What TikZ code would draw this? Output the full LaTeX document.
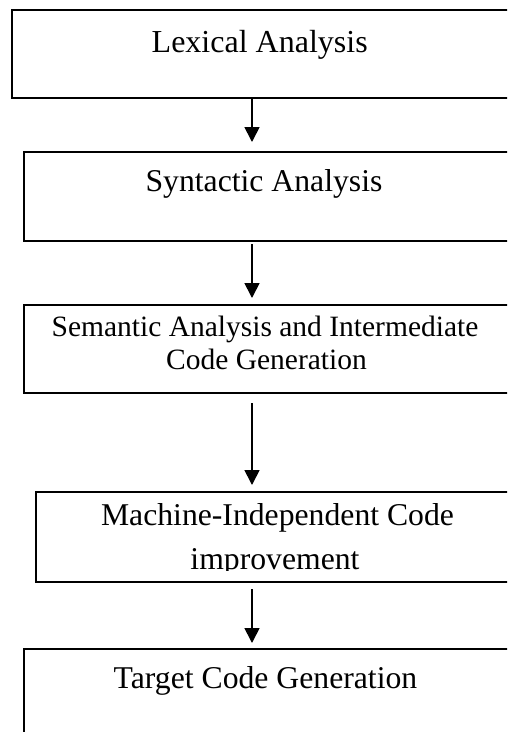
\documentclass[tikz,border=0pt]{standalone}
\usepackage{fontspec}
\setmainfont{Liberation Serif}
\usetikzlibrary{arrows.meta}
\begin{document}
\begin{tikzpicture}[x=1pt,y=-1pt,
  box/.style={draw, line width=1.3pt, rectangle, anchor=north west, inner sep=0pt, outer sep=0pt, minimum width=520pt},
  lbl/.style={anchor=base, inner sep=0pt, font=\fontsize{29.5}{33}\selectfont},
  lblb/.style={anchor=base, inner sep=0pt, font=\fontsize{31.7}{38}\selectfont},
  flow/.style={line width=1.7pt, -{Triangle[width=15pt,length=15pt]}}]
\useasboundingbox (0,0) rectangle (507,732);
\clip (0,0) rectangle (507,732);
\coordinate (ax) at (252,0);
\node[box, minimum height=88pt] (b1) at (12,10) {};
\node[box, minimum height=89pt] (b2) at (24,152) {};
\node[box, minimum height=88pt] (b3) at (24,305) {};
\node[box, minimum height=90pt] (b4) at (36,492) {};
\node[box, minimum height=120pt] (b5) at (24,649) {};
\node[lbl, font=\fontsize{32}{38}\selectfont] (t1) at (259.7,52) {Lexical Analysis};
\node[lblb] (t2) at (264,191) {Syntactic Analysis};
\node[lbl] (t3a) at (265,336) {Semantic Analysis and Intermediate};
\node[lbl] (t3b) at (266.5,369) {Code Generation};
\node[lblb] (t4a) at (277.5,525) {Machine-Independent Code};
\begin{scope}
\clip (36,492) rectangle (520,570);
\node[lblb] (t4b) at (275,569) {improvement};
\end{scope}
\node[lblb] (t5) at (265.5,688) {Target Code Generation};
\draw[flow, shorten >=10pt] (b1.south -| ax) -- (b2.north -| ax);
\draw[flow, shorten <=3pt, shorten >=7pt] (b2.south -| ax) -- (b3.north -| ax);
\draw[flow, shorten <=10pt, shorten >=7pt] (b3.south -| ax) -- (b4.north -| ax);
\draw[flow, shorten <=7pt, shorten >=6pt] (b4.south -| ax) -- (b5.north -| ax);
\end{tikzpicture}
\end{document}
